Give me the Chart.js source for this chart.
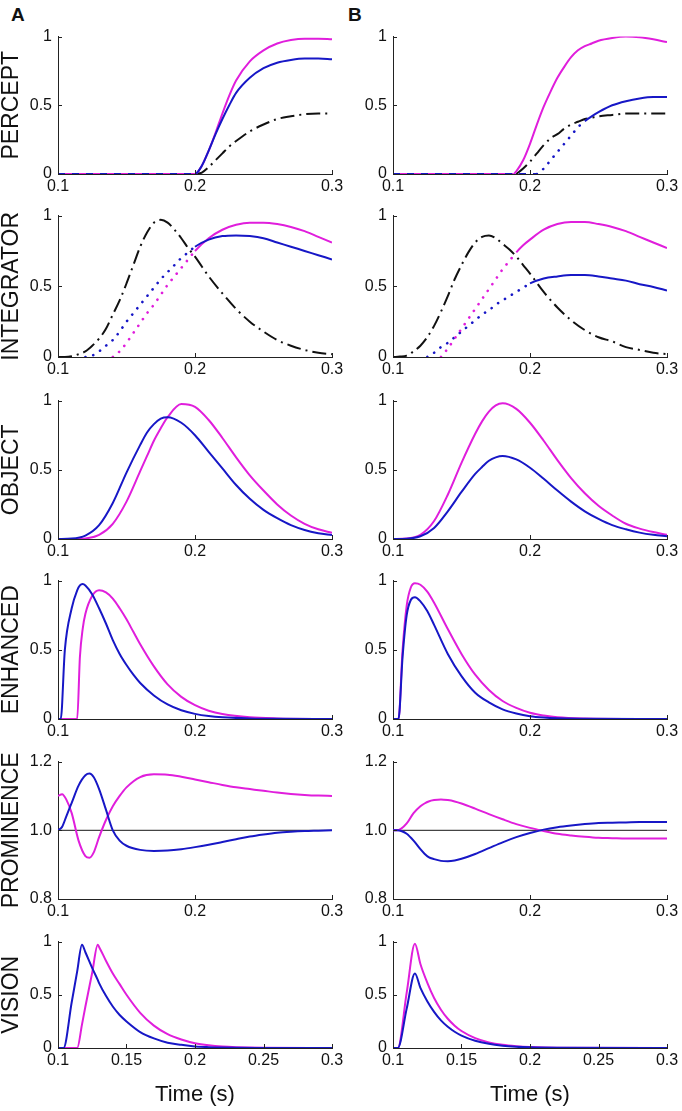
<!DOCTYPE html>
<html>
<head>
<meta charset="utf-8">
<title>Percept / integrator / object / enhanced / prominence / vision</title>
<script src="https://cdn.jsdelivr.net/npm/chart.js@4.4.0/dist/chart.umd.min.js"></script>
<style>
  body { margin: 0; background: #fff; }
  #fig { position: relative; width: 682px; height: 1111px; overflow: hidden; font-family: "Liberation Sans", Arial, sans-serif; }
  #fig canvas { position: absolute; }
  .tag { position: absolute; font-weight: bold; font-size: 19px; line-height: 1; color: #111; }
</style>
</head>
<body>
<div id="fig">
  <div class="tag" style="left:11px;top:5px">A</div>
  <div class="tag" style="left:348px;top:5px">B</div>
</div>
<script>
// ---- tick values / labels
var xTicks = [0.1, 0.2, 0.3];
var xTickLabels = ['0.1', '0.2', '0.3'];
var visTicks = [0.1, 0.15, 0.2, 0.25, 0.3];
var visTickLabels = ['0.1', '0.15', '0.2', '0.25', '0.3'];
var yTicks = [0, 0.5, 1];
var yTickLabels = ['0', '0.5', '1'];
var promTicks = [0.8, 1.0, 1.2];
var promTickLabels = ['0.8', '1.0', '1.2'];
var rowNames = ['PERCEPT', 'INTEGRATOR', 'OBJECT', 'ENHANCED', 'PROMINENCE', 'VISION'];

// ---- PERCEPT
var tPercA = [0.1, 0.15, 0.2, 0.205, 0.21, 0.215, 0.22, 0.225, 0.23, 0.24, 0.25, 0.26, 0.27, 0.28, 0.29, 0.3];
var percA_mag = [0, 0, 0, 0.06, 0.17, 0.3, 0.44, 0.57, 0.68, 0.82, 0.9, 0.95, 0.975, 0.985, 0.985, 0.98];
var percA_blue = [0, 0, 0, 0.06, 0.17, 0.29, 0.4, 0.5, 0.59, 0.7, 0.77, 0.81, 0.83, 0.84, 0.84, 0.835];
var percA_black = [null, null, 0, 0.01, 0.05, 0.1, 0.15, 0.2, 0.24, 0.31, 0.36, 0.4, 0.42, 0.435, 0.44, 0.44];

var tPercB = [0.1, 0.15, 0.188, 0.19, 0.195, 0.2, 0.205, 0.21, 0.215, 0.22, 0.225, 0.23, 0.235, 0.24, 0.245, 0.25, 0.26, 0.27, 0.28, 0.29, 0.3];
var percB_mag = [0, 0, 0, 0.02, 0.1, 0.22, 0.36, 0.49, 0.6, 0.7, 0.78, 0.85, 0.9, 0.93, 0.95, 0.97, 0.99, 1.0, 0.995, 0.98, 0.96];
var percB_blue = [0, 0, 0, 0, 0, 0, 0, 0.04, 0.1, 0.16, 0.22, 0.28, 0.34, 0.385, 0.42, 0.45, 0.5, 0.53, 0.55, 0.56, 0.56];
var percB_black = [null, null, null, 0, 0.04, 0.09, 0.15, 0.21, 0.26, 0.29, 0.33, 0.36, 0.38, 0.4, 0.41, 0.42, 0.43, 0.44, 0.44, 0.44, 0.44];

// ---- INTEGRATOR (dotted part before the solid part)
var tInt = [0.1, 0.105, 0.11, 0.115, 0.12, 0.125, 0.13, 0.135, 0.14, 0.145, 0.15, 0.155, 0.16, 0.165, 0.17, 0.175, 0.18, 0.185, 0.19, 0.195, 0.2, 0.21, 0.22, 0.23, 0.24, 0.25, 0.26, 0.27, 0.28, 0.29, 0.3];
var intA_black = [0, 0, 0.005, 0.02, 0.04, 0.08, 0.13, 0.2, 0.3, 0.4, 0.52, 0.65, 0.78, 0.88, 0.95, 0.97, 0.95, 0.9, 0.84, 0.77, 0.71, 0.57, 0.45, 0.34, 0.25, 0.18, 0.12, 0.08, 0.05, 0.03, 0.02];
var intA_blue = [null, null, null, null, 0, 0.01, 0.04, 0.08, 0.12, 0.18, 0.25, 0.31, 0.37, 0.43, 0.49, 0.55, 0.6, 0.65, 0.7, 0.74, 0.78, 0.83, 0.855, 0.86, 0.855, 0.84, 0.81, 0.78, 0.75, 0.72, 0.69];
var intA_mag = [null, null, null, null, null, null, null, null, 0, 0.04, 0.1, 0.17, 0.24, 0.31, 0.37, 0.44, 0.51, 0.57, 0.63, 0.69, 0.75, 0.84, 0.9, 0.935, 0.95, 0.95, 0.94, 0.92, 0.89, 0.85, 0.81];
var intB_black = [0, 0.003, 0.01, 0.04, 0.08, 0.14, 0.22, 0.32, 0.43, 0.55, 0.65, 0.74, 0.81, 0.85, 0.86, 0.84, 0.8, 0.76, 0.71, 0.65, 0.59, 0.46, 0.35, 0.26, 0.19, 0.14, 0.11, 0.07, 0.05, 0.03, 0.02];
var intB_mag = [null, null, null, null, null, null, null, 0, 0.06, 0.13, 0.2, 0.27, 0.34, 0.41, 0.48, 0.55, 0.62, 0.68, 0.74, 0.79, 0.83, 0.9, 0.94, 0.955, 0.955, 0.94, 0.92, 0.89, 0.85, 0.81, 0.77];
var intB_blue = [null, null, null, null, null, 0, 0.03, 0.07, 0.1, 0.14, 0.18, 0.22, 0.26, 0.3, 0.33, 0.37, 0.4, 0.43, 0.46, 0.49, 0.52, 0.555, 0.57, 0.58, 0.58, 0.57, 0.555, 0.54, 0.515, 0.495, 0.47];

// ---- OBJECT
var tObj = [0.1, 0.11, 0.12, 0.13, 0.14, 0.15, 0.16, 0.165, 0.17, 0.175, 0.18, 0.19, 0.2, 0.21, 0.22, 0.23, 0.24, 0.25, 0.26, 0.27, 0.28, 0.29, 0.3];
var objA_blue = [0, 0.003, 0.025, 0.1, 0.26, 0.48, 0.68, 0.77, 0.83, 0.87, 0.88, 0.84, 0.75, 0.63, 0.51, 0.39, 0.29, 0.21, 0.15, 0.1, 0.065, 0.042, 0.028];
var objA_mag = [0, 0, 0.004, 0.03, 0.11, 0.27, 0.49, 0.6, 0.71, 0.8, 0.88, 0.975, 0.955, 0.86, 0.73, 0.59, 0.46, 0.35, 0.25, 0.17, 0.11, 0.07, 0.045];
var objB_mag = [0, 0.003, 0.03, 0.13, 0.32, 0.55, 0.76, 0.85, 0.92, 0.965, 0.98, 0.94, 0.84, 0.71, 0.57, 0.44, 0.33, 0.24, 0.17, 0.11, 0.075, 0.05, 0.03];
var objB_blue = [0, 0.002, 0.02, 0.08, 0.2, 0.34, 0.47, 0.52, 0.565, 0.59, 0.6, 0.575, 0.515, 0.435, 0.35, 0.27, 0.2, 0.145, 0.1, 0.07, 0.046, 0.03, 0.02];

// ---- ENHANCED
var tEnhA = [0.1, 0.102, 0.105, 0.11, 0.114, 0.116, 0.118, 0.12, 0.125, 0.13, 0.135, 0.14, 0.145, 0.15, 0.155, 0.16, 0.17, 0.18, 0.19, 0.2, 0.21, 0.22, 0.24, 0.26, 0.3];
var enhA_blue = [0, 0, 0.5, 0.8, 0.93, 0.965, 0.975, 0.965, 0.9, 0.8, 0.69, 0.57, 0.47, 0.39, 0.32, 0.26, 0.17, 0.105, 0.063, 0.037, 0.021, 0.012, 0.004, 0.001, 0];
var enhA_mag = [0, 0, 0, 0, 0, 0.45, 0.65, 0.76, 0.89, 0.93, 0.915, 0.87, 0.8, 0.72, 0.63, 0.54, 0.38, 0.25, 0.16, 0.1, 0.06, 0.036, 0.012, 0.004, 0];
var tEnhB = [0.1, 0.104, 0.107, 0.11, 0.113, 0.116, 0.12, 0.125, 0.13, 0.14, 0.15, 0.16, 0.17, 0.18, 0.19, 0.2, 0.21, 0.22, 0.24, 0.3];
var enhB_blue = [0, 0, 0.45, 0.75, 0.86, 0.88, 0.85, 0.78, 0.68, 0.47, 0.31, 0.19, 0.12, 0.07, 0.04, 0.02, 0.01, 0.005, 0.002, 0];
var enhB_mag = [0, 0, 0.5, 0.82, 0.95, 0.98, 0.97, 0.92, 0.84, 0.65, 0.47, 0.32, 0.21, 0.13, 0.08, 0.045, 0.025, 0.012, 0.004, 0];

// ---- PROMINENCE
var tProm = [0.1, 0.103, 0.106, 0.11, 0.115, 0.12, 0.123, 0.126, 0.13, 0.135, 0.14, 0.145, 0.15, 0.16, 0.17, 0.18, 0.19, 0.2, 0.21, 0.22, 0.23, 0.24, 0.25, 0.26, 0.27, 0.28, 0.29, 0.3];
var promA_mag = [1.1, 1.105, 1.09, 1.05, 0.97, 0.925, 0.92, 0.935, 0.98, 1.03, 1.07, 1.1, 1.125, 1.155, 1.163, 1.162, 1.156, 1.148, 1.14, 1.132, 1.125, 1.12, 1.115, 1.11, 1.106, 1.103, 1.101, 1.1];
var promA_blue = [1.0, 1.01, 1.04, 1.08, 1.13, 1.16, 1.165, 1.155, 1.12, 1.06, 1.0, 0.97, 0.955, 0.943, 0.94, 0.941, 0.945, 0.951, 0.958, 0.966, 0.974, 0.982, 0.988, 0.993, 0.996, 0.998, 0.999, 1.0];
var promB_mag = [1.0, 1.0, 1.005, 1.02, 1.05, 1.07, 1.078, 1.084, 1.088, 1.09, 1.088, 1.084, 1.078, 1.063, 1.047, 1.032, 1.018, 1.007, 0.998, 0.99, 0.985, 0.981, 0.978, 0.977, 0.976, 0.976, 0.976, 0.976];
var promB_blue = [1.0, 1.0, 0.998, 0.99, 0.97, 0.945, 0.932, 0.922, 0.916, 0.911, 0.91, 0.912, 0.917, 0.931, 0.948, 0.965, 0.98, 0.992, 1.002, 1.009, 1.014, 1.018, 1.021, 1.022, 1.023, 1.024, 1.024, 1.024];
var tRef = [0.1, 0.3];
var promRef = [1.0, 1.0];

// ---- VISION
var tVisA = [0.1, 0.104, 0.11, 0.114, 0.1175, 0.12, 0.125, 0.129, 0.13, 0.135, 0.14, 0.145, 0.15, 0.16, 0.17, 0.18, 0.19, 0.2, 0.21, 0.22, 0.23, 0.25, 0.3];
var visA_blue = [0, 0, 0.43, 0.72, 0.97, 0.9, 0.75, 0.64, 0.61, 0.49, 0.39, 0.31, 0.25, 0.15, 0.09, 0.05, 0.03, 0.015, 0.008, 0.004, 0.002, 0.001, 0];
var visA_mag = [0, 0, 0, 0, 0.22, 0.39, 0.71, 0.97, 0.95, 0.82, 0.7, 0.6, 0.5, 0.33, 0.21, 0.13, 0.08, 0.045, 0.025, 0.013, 0.007, 0.002, 0];
var tVisB = [0.1, 0.1035, 0.11, 0.116, 0.12, 0.125, 0.13, 0.135, 0.14, 0.145, 0.15, 0.16, 0.17, 0.18, 0.19, 0.2, 0.22, 0.3];
var visB_mag = [0, 0, 0.52, 0.98, 0.79, 0.615, 0.47, 0.36, 0.275, 0.21, 0.16, 0.093, 0.053, 0.03, 0.017, 0.009, 0.002, 0];
var visB_blue = [0, 0, 0.37, 0.7, 0.565, 0.44, 0.34, 0.26, 0.2, 0.153, 0.117, 0.068, 0.039, 0.022, 0.012, 0.006, 0.002, 0];

// ---- look
var MAG = '#e01edc', BLUE = '#1717c6', BLACK = '#111111', AXIS = '#222222', TXT = '#111111';
var FONT = '"Liberation Sans", Arial, sans-serif';
var Y_W = 58, PLOT_W = 274, PAD_T = 12, PAD_R = 16;
var colLeft = [58, 393];
var rowTop = [33, 212, 397, 577, 758, 938];
var rowH = [141, 145, 142, 142, 141, 110];

//Small inward tick marks, MATLAB style
var inTicks = {
  id: 'inTicks',
  afterDraw: function (chart) {
    var ctx = chart.ctx, a = chart.chartArea, xs = chart.scales.x, ys = chart.scales.y;
    ctx.save();
    ctx.strokeStyle = AXIS;
    ctx.lineWidth = 1;
    ctx.beginPath();
    xs.ticks.forEach(function (t) {
      var px = Math.round(xs.getPixelForValue(t.value)) + 0.5;
      ctx.moveTo(px, a.bottom);
      ctx.lineTo(px, a.bottom - 4);
    });
    ys.ticks.forEach(function (t) {
      var py = Math.round(ys.getPixelForValue(t.value)) + 0.5;
      ctx.moveTo(a.left, py);
      ctx.lineTo(a.left + 4, py);
    });
    ctx.stroke();
    ctx.restore();
  }
};

function pts(t, v) {
  return t.map(function (x, i) { return { x: x, y: v[i] }; });
}

// baseTo: dashed baseline up to this time, dotTo: dotted up to this time
function curve(t, v, color, baseTo, dotTo, dashOff) {
  baseTo = baseTo || 0; dotTo = dotTo || 0;
  function inDots(c) {
    var x1 = c.p1.parsed.x;
    return x1 > baseTo + 1e-9 && x1 <= dotTo + 1e-9;
  }
  return {
    data: pts(t, v),
    borderColor: color,
    borderWidth: 2,
    pointRadius: 0,
    cubicInterpolationMode: 'monotone',
    borderDashOffset: dashOff || 0,
    segment: {
      borderDash: function (c) {
        if (c.p1.parsed.x <= baseTo + 1e-9) return [7, 7];
        if (inDots(c)) return [0.1, 8];
        return [];
      },
      borderCapStyle: function (c) { return inDots(c) ? 'round' : 'butt'; },
      borderWidth: function (c) { return inDots(c) ? 2.6 : 2; }
    }
  };
}

function dashDot(t, v) {
  return {
    data: pts(t, v),
    borderColor: BLACK,
    borderWidth: 2,
    pointRadius: 0,
    cubicInterpolationMode: 'monotone',
    borderDash: [14, 5, 2, 5]
  };
}

function refLine(t, v) {
  return { data: pts(t, v), borderColor: '#444', borderWidth: 1.3, pointRadius: 0 };
}

var fig = document.getElementById('fig');

function makePanel(col, row, sets, opt) {
  var isVis = row === 5;
  var xH = isVis ? 60 : 26;
  var c = document.createElement('canvas');
  c.width = Y_W + PLOT_W + PAD_R;
  c.height = PAD_T + rowH[row] + xH;
  c.style.left = (colLeft[col] - Y_W) + 'px';
  c.style.top = (rowTop[row] - PAD_T) + 'px';
  fig.appendChild(c);

  var xv = isVis ? visTicks : xTicks, xl = isVis ? visTickLabels : xTickLabels;
  var yv = opt.prom ? promTicks : yTicks, yl = opt.prom ? promTickLabels : yTickLabels;

  return new Chart(c, {
    type: 'line',
    data: { datasets: sets },
    options: {
      responsive: false,
      animation: false,
      devicePixelRatio: 1,
      events: [],
      layout: { padding: { top: PAD_T, right: PAD_R, left: 0, bottom: 0 } },
      plugins: { legend: { display: false }, tooltip: { enabled: false } },
      scales: {
        x: {
          type: 'linear', min: 0.1, max: 0.3,
          grid: { display: false, drawTicks: false },
          border: { color: AXIS, width: 1 },
          afterBuildTicks: function (s) { s.ticks = xv.map(function (v) { return { value: v }; }); },
          afterFit: function (s) { s.height = xH; },
          ticks: {
            padding: 3, color: TXT, maxRotation: 0, autoSkip: false,
            font: { size: 16, family: FONT },
            callback: function (v, i) { return xl[i]; }
          },
          title: {
            display: isVis, text: 'Time (s)', color: TXT,
            font: { size: 22, family: FONT, lineHeight: 1.2 },
            padding: { top: 0, bottom: 0 }
          }
        },
        y: {
          min: opt.prom ? 0.8 : 0, max: opt.prom ? 1.2 : 1,
          grid: { display: false, drawTicks: false },
          border: { color: AXIS, width: 1 },
          afterBuildTicks: function (s) { s.ticks = yv.map(function (v) { return { value: v }; }); },
          afterFit: function (s) { s.width = Y_W; },
          ticks: {
            padding: 6, color: TXT,
            font: { size: 16, family: FONT },
            callback: function (v, i) { return yl[i]; }
          },
          title: {
            display: col === 0, text: rowNames[row], color: TXT,
            font: { size: 23, family: FONT, lineHeight: 1 },
            padding: { top: 0, bottom: 0 }
          }
        }
      }
    },
    plugins: [inTicks]
  });
}

// column A
makePanel(0, 0, [
  curve(tPercA, percA_blue, BLUE, 0.2, 0, 0),
  curve(tPercA, percA_mag, MAG, 0.2, 0, 7),
  dashDot(tPercA, percA_black)
], {});
makePanel(0, 1, [
  curve(tInt, intA_blue, BLUE, 0, 0.2),
  curve(tInt, intA_mag, MAG, 0, 0.2),
  dashDot(tInt, intA_black)
], {});
makePanel(0, 2, [
  curve(tObj, objA_blue, BLUE),
  curve(tObj, objA_mag, MAG)
], {});
makePanel(0, 3, [
  curve(tEnhA, enhA_blue, BLUE),
  curve(tEnhA, enhA_mag, MAG)
], {});
makePanel(0, 4, [
  curve(tProm, promA_blue, BLUE),
  curve(tProm, promA_mag, MAG),
  refLine(tRef, promRef)
], { prom: true });
makePanel(0, 5, [
  curve(tVisA, visA_blue, BLUE),
  curve(tVisA, visA_mag, MAG)
], {});

// column B
makePanel(1, 0, [
  curve(tPercB, percB_mag, MAG, 0.188, 0, 7),
  curve(tPercB, percB_blue, BLUE, 0.205, 0.24, 0),
  dashDot(tPercB, percB_black)
], {});
makePanel(1, 1, [
  curve(tInt, intB_mag, MAG, 0, 0.19),
  curve(tInt, intB_blue, BLUE, 0, 0.2),
  dashDot(tInt, intB_black)
], {});
makePanel(1, 2, [
  curve(tObj, objB_blue, BLUE),
  curve(tObj, objB_mag, MAG)
], {});
makePanel(1, 3, [
  curve(tEnhB, enhB_blue, BLUE),
  curve(tEnhB, enhB_mag, MAG)
], {});
makePanel(1, 4, [
  curve(tProm, promB_blue, BLUE),
  curve(tProm, promB_mag, MAG),
  refLine(tRef, promRef)
], { prom: true });
makePanel(1, 5, [
  curve(tVisB, visB_blue, BLUE),
  curve(tVisB, visB_mag, MAG)
], {});
</script>
</body>
</html>
